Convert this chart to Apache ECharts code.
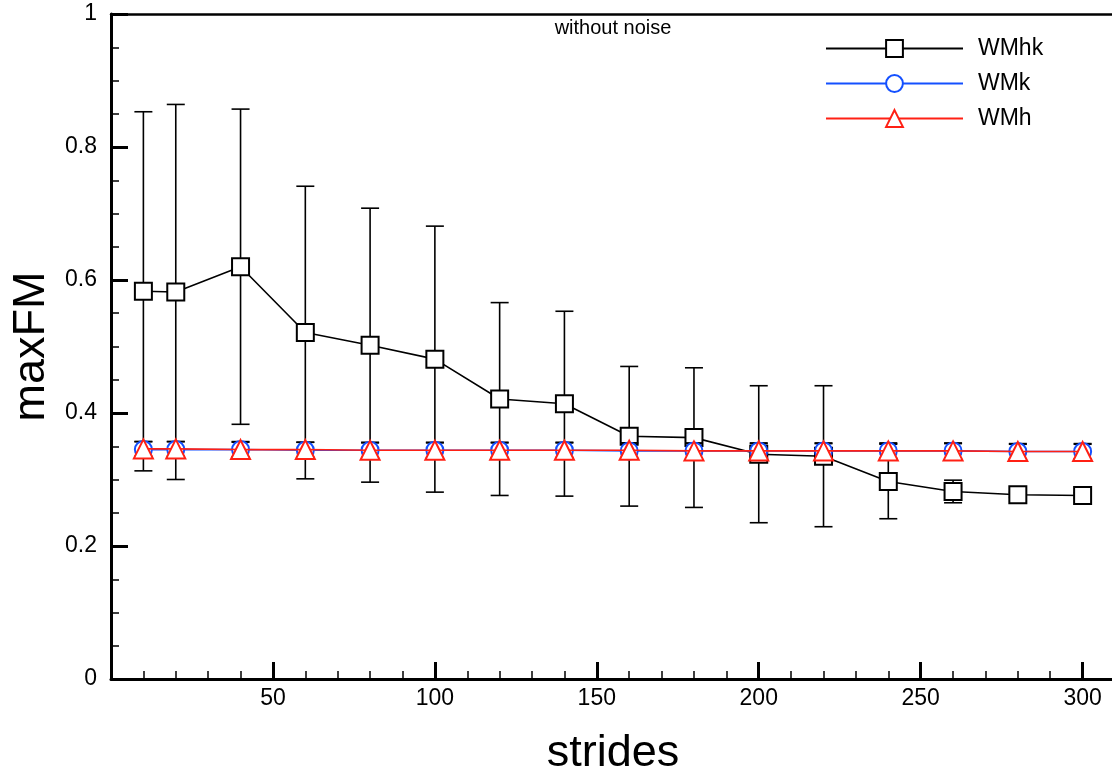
<!DOCTYPE html>
<html>
<head>
<meta charset="utf-8">
<script src="https://cdn.jsdelivr.net/npm/echarts@6/dist/echarts.min.js"></script>
<style>html,body{margin:0;padding:0;background:#fff;}#c{width:1112px;height:778px;}</style>
</head>
<body>
<div id="c"></div>
<script>
const strides = [10, 20, 40, 60, 80, 100, 120, 140, 160, 180, 200, 220, 240, 260, 280, 300];
const wmhk    = [0.583, 0.582, 0.620, 0.521, 0.502, 0.481, 0.421, 0.414, 0.365, 0.363, 0.338, 0.335, 0.297, 0.282, 0.277, 0.276];
const wmhkErr = [0.270, 0.282, 0.237, 0.220, 0.206, 0.200, 0.145, 0.139, 0.105, 0.105, 0.103, 0.106, 0.056, 0.017, 0.004, 0.004];
const wmk     = [0.345, 0.345, 0.345, 0.344, 0.344, 0.344, 0.344, 0.344, 0.343, 0.343, 0.343, 0.343, 0.343, 0.343, 0.342, 0.342];
const wmkErr  = [0.012, 0.012, 0.012, 0.012, 0.012, 0.012, 0.012, 0.012, 0.012, 0.012, 0.012, 0.012, 0.012, 0.012, 0.012, 0.012];
const wmh     = [0.346, 0.346, 0.345, 0.345, 0.344, 0.344, 0.344, 0.344, 0.344, 0.343, 0.343, 0.343, 0.343, 0.343, 0.342, 0.342];
const wmhErr  = [0.011, 0.011, 0.011, 0.011, 0.011, 0.011, 0.011, 0.011, 0.011, 0.011, 0.011, 0.011, 0.011, 0.011, 0.011, 0.011];
const seriesNames = ['WMhk', 'WMk', 'WMh'];
const titleText = 'without noise';
const xName = 'strides';
const yName = 'maxFM';

const FONT = '"Liberation Sans", Arial, Helvetica, sans-serif';

function pairs(vals) { return strides.map((s, i) => [s, vals[i]]); }
function errData(vals, errs) { return strides.map((s, i) => [s, vals[i] - errs[i], vals[i] + errs[i]]); }

function renderErr(params, api) {
  const x = api.value(0), lo = api.value(1), hi = api.value(2);
  const p1 = api.coord([x, hi]);
  const p2 = api.coord([x, lo]);
  const w = 9;
  const st = { stroke: '#000', lineWidth: 1.6 };
  return {
    type: 'group',
    children: [
      { type: 'line', shape: { x1: p1[0], y1: p1[1], x2: p2[0], y2: p2[1] }, style: st },
      { type: 'line', shape: { x1: p1[0] - w, y1: p1[1], x2: p1[0] + w, y2: p1[1] }, style: st },
      { type: 'line', shape: { x1: p2[0] - w, y1: p2[1], x2: p2[0] + w, y2: p2[1] }, style: st }
    ]
  };
}

const chart = echarts.init(document.getElementById('c'), null, { renderer: 'canvas' });
const option = {
  animation: false,
  backgroundColor: '#fff',
  textStyle: { fontFamily: FONT },
  title: {
    text: titleText, left: 608, top: 13, textAlign: 'center',
    textStyle: { fontFamily: FONT, fontSize: 20, fontWeight: 'normal', color: '#000' }
  },
  legend: {
    data: seriesNames,
    orient: 'vertical',
    left: 825, top: 37, padding: 0,
    itemWidth: 137, itemHeight: 21, itemGap: 12,
    textStyle: { fontFamily: FONT, fontSize: 23, color: '#000', padding: [0, 0, 0, 10] }
  },
  grid: { left: 111, right: -3, top: 14, bottom: 99, containLabel: false, outerBoundsMode: 'none' },
  xAxis: [{
    type: 'value', min: 0, max: 310, interval: 50,
    name: xName, nameLocation: 'middle', nameGap: 52,
    nameTextStyle: { fontFamily: FONT, fontSize: 45, color: '#000' },
    axisLine: { show: true, lineStyle: { color: '#000', width: 3 } },
    axisTick: { show: true, inside: true, length: 17, lineStyle: { color: '#000', width: 3 } },
    minorTick: { show: true, splitNumber: 5, length: 8, lineStyle: { color: '#000', width: 1.5 } },
    axisLabel: { fontFamily: FONT, fontSize: 23, color: '#000', margin: 8, showMaxLabel: false,
      formatter: v => (v === 0 || v % 50 !== 0) ? '' : String(v) },
    splitLine: { show: false }
  }, {
    type: 'value', min: 0, max: 310, position: 'top',
    axisLine: { show: true, onZero: false, lineStyle: { color: '#000', width: 2.5 } },
    axisTick: { show: false }, axisLabel: { show: false }, splitLine: { show: false }
  }],
  yAxis: {
    type: 'value', min: 0, max: 1, interval: 0.2,
    name: yName, nameLocation: 'middle', nameGap: 49,
    nameTextStyle: { fontFamily: FONT, fontSize: 45, color: '#000' },
    axisLine: { show: true, lineStyle: { color: '#000', width: 3 } },
    axisTick: { show: true, inside: true, length: 17, lineStyle: { color: '#000', width: 3 } },
    minorTick: { show: true, splitNumber: 4, length: 8, lineStyle: { color: '#000', width: 1.5 } },
    axisLabel: { fontFamily: FONT, fontSize: 23, color: '#000', margin: 14 },
    splitLine: { show: false }
  },
  series: [
    { name: 'WMhk-err', type: 'custom', renderItem: renderErr, data: errData(wmhk, wmhkErr), encode: { x: 0, y: [1, 2] }, z: 1, silent: true },
    { name: 'WMhk', type: 'line', data: pairs(wmhk), z: 2,
      symbol: 'rect', symbolSize: 17, showAllSymbol: true,
      lineStyle: { color: '#000', width: 1.6 },
      itemStyle: { color: '#fff', borderColor: '#000', borderWidth: 2 } },
    { name: 'WMk-err', type: 'custom', renderItem: renderErr, data: errData(wmk, wmkErr), encode: { x: 0, y: [1, 2] }, z: 3, silent: true },
    { name: 'WMh-err', type: 'custom', renderItem: renderErr, data: errData(wmh, wmhErr), encode: { x: 0, y: [1, 2] }, z: 3, silent: true },
    { name: 'WMk', type: 'line', data: pairs(wmk), z: 4,
      symbol: 'circle', symbolSize: 17, showAllSymbol: true,
      lineStyle: { color: '#1450ff', width: 1.6 },
      itemStyle: { color: '#fff', borderColor: '#1450ff', borderWidth: 2 } },
    { name: 'WMh', type: 'line', data: pairs(wmh), z: 5,
      symbol: 'triangle', symbolSize: 19, showAllSymbol: true,
      lineStyle: { color: '#ff2014', width: 1.6 },
      itemStyle: { color: '#fff', borderColor: '#ff2014', borderWidth: 2 } }
  ]
};
chart.setOption(option);
</script>
</body>
</html>
